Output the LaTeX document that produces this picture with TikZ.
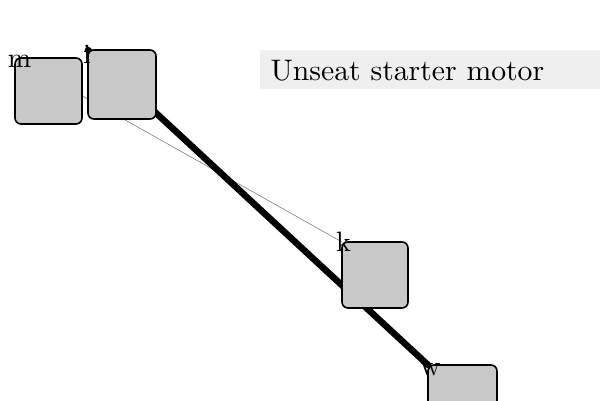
\documentclass[tikz,border=0pt]{standalone}
\usepackage{tikz}
\definecolor{boxgray}{HTML}{C8C8C8}
\definecolor{titlegray}{HTML}{EFEFEF}
\tikzset{
  box/.style={draw=black, fill=boxgray, line width=1.6pt, rounded corners=6pt, minimum width=#1, minimum height=66pt, inner sep=0pt, outer sep=0pt, anchor=north west},
  lbl/.style={font=\normalsize, scale=2.8, inner sep=0pt, anchor=base},
  thinedge/.style={draw=gray, line width=0.6pt},
  thickedge/.style={draw=black, line width=6.5pt, line cap=round},
}
\begin{document}
\begin{tikzpicture}[x=1pt,y=1pt]
\useasboundingbox (0,0) rectangle (600,400);
% title
\node[fill=titlegray, anchor=north west, minimum width=340pt, minimum height=39pt, inner sep=0pt, outer sep=0pt] (title) at (260,350) {};
\node[anchor=base west, inner sep=0pt, font=\normalsize, scale=2.97] (titletext) at (270,320) {Unseat starter motor};
% anchor coordinates
\coordinate (mc) at (15,342);
\coordinate (ic) at (88,350);
\coordinate (kc) at (342,158);
\coordinate (wc) at (428,35);
% edges
\draw[thinedge] (mc) -- (kc);
\draw[thickedge] (wc) -- (ic);
% boxes
\node[box=67pt] (m) at (mc) {};
\node[box=68pt, minimum height=69pt] (i) at (ic) {};
\node[box=66pt] (k) at (kc) {};
\node[box=69pt, minimum height=70pt] (w) at (wc) {};
% labels
\node[lbl] (ml) at ([xshift=4.5pt,yshift=-9pt]m.north west) {m};
\node[lbl] (il) at ([xshift=-1pt,yshift=-13pt]i.north west) {i};
\node[lbl] (kl) at ([xshift=1.5pt,yshift=-9pt]k.north west) {k};
\node[lbl] (wl) at ([xshift=2.5pt,yshift=-10pt]w.north west) {w};
\end{tikzpicture}
\end{document}
